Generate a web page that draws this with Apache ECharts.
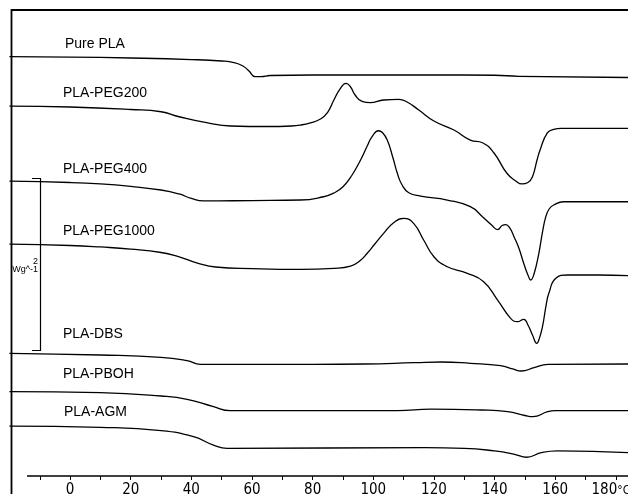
<!DOCTYPE html>
<html>
<head>
<meta charset="utf-8">
<script src="https://cdn.jsdelivr.net/npm/echarts@6/dist/echarts.min.js"></script>
<style>
html,body{margin:0;padding:0;background:#fff;}
#c{width:628px;height:494px;}
</style>
</head>
<body>
<div id="c"></div>
<script>
// Temperature (°C) vs heat flow (W/g, curves offset vertically)
const seriesNames = ['Pure PLA','PLA-PEG200','PLA-PEG400','PLA-PEG1000','PLA-DBS','PLA-PBOH','PLA-AGM'];

const purePLA = [[-20,4.86],[0,4.855],[20,4.844],[40,4.826],[50,4.809],[54,4.791],[57,4.751],[59,4.693],[61,4.629],[63,4.629],[66,4.641],[80,4.647],[120,4.647],[140,4.644],[148,4.632],[184,4.618]];

const pegA = [[-20,4.287],[0,4.276],[20,4.247],[30,4.221],[36,4.163],[45,4.094],[53,4.056],[65,4.050],[73,4.056],[76,4.067],[79,4.090],[82.6,4.137],[85,4.218],[87,4.357],[89,4.484],[91,4.550],[92.5,4.508],[94,4.415],[96.3,4.340],[99,4.326],[103.4,4.357],[108.4,4.365],[111,4.337],[115,4.241],[120,4.114],[126.6,4.009],[132,3.893],[136,3.862],[139.8,3.743],[144,3.511],[147,3.418],[149,3.384],[151,3.401],[152.5,3.468],[154,3.662],[155,3.778],[157.4,3.975],[159.5,4.017],[162,4.029],[184,4.029]];

const pegB = [[-20,3.418],[0,3.401],[10,3.384],[20,3.355],[30,3.314],[36,3.268],[40,3.216],[44,3.187],[60,3.192],[76,3.198],[83.6,3.236],[87,3.279],[90,3.352],[93,3.488],[95.8,3.662],[98,3.824],[99.6,3.932],[101.7,4.001],[103,3.980],[104.6,3.893],[106.5,3.685],[107.9,3.511],[109.5,3.372],[111.7,3.283],[115.6,3.244],[124.4,3.198],[132,3.121],[136,3.005],[139,2.908],[141,2.856],[142.5,2.903],[143.7,2.914],[145,2.874],[146.4,2.773],[148,2.642],[149.6,2.465],[151,2.329],[151.9,2.271],[153,2.341],[154.6,2.581],[155.8,2.827],[156.9,3.005],[158,3.094],[159.5,3.140],[162.8,3.178],[184,3.178]];

const pegC = [[-20,2.688],[0,2.671],[10,2.654],[20,2.630],[30,2.590],[36,2.538],[42,2.468],[48,2.422],[60,2.404],[76,2.395],[87,2.407],[92.5,2.433],[95.5,2.491],[98,2.581],[100.5,2.688],[103.4,2.812],[106.7,2.935],[110,2.986],[113.3,2.928],[116.6,2.735],[120,2.541],[124.4,2.425],[131,2.349],[136.4,2.251],[141,2.039],[145.3,1.827],[147.5,1.788],[149.6,1.816],[151,1.750],[152.5,1.634],[153.9,1.538],[154.8,1.599],[155.8,1.730],[157,1.981],[157.9,2.117],[160.2,2.291],[164,2.329],[174,2.329],[184,2.321]];

const dbs = [[-20,1.422],[10,1.402],[30,1.375],[38.6,1.336],[43,1.294],[80,1.294],[97,1.298],[113.6,1.313],[122.4,1.321],[132,1.306],[142,1.278],[146,1.240],[148.8,1.217],[153,1.255],[157.6,1.294],[184,1.298]];

const pboh = [[-20,0.977],[10,0.965],[30,0.927],[38.6,0.889],[47.3,0.803],[52.8,0.757],[108,0.757],[119,0.776],[135.6,0.765],[144.3,0.745],[150,0.701],[152.6,0.687],[157.5,0.745],[160,0.757],[184,0.757]];

const agm = [[-20,0.579],[10,0.564],[30,0.525],[40.7,0.455],[47.3,0.359],[51.8,0.321],[117,0.328],[130,0.321],[140,0.290],[146.6,0.251],[150.5,0.217],[155.4,0.270],[160.8,0.290],[184,0.270]];

const tickValues = [-10,0,10,20,30,40,50,60,70,80,90,100,110,120,130,140,150,160,170,180];
const labelValues = [0,20,40,60,80,100,120,140,160,180];

const allData = [purePLA, pegA, pegB, pegC, dbs, pboh, agm];

const chart = echarts.init(document.getElementById('c'), null, {renderer:'canvas'});

const labelPos = [[65,44],[63,93],[63,169],[63,231],[63,334],[63,374],[64,412]];

const graphics = [
  {type:'polyline', shape:{points:[[11.5,494],[11.5,10],[628,10]]}, style:{stroke:'#000', lineWidth:1.8, fill:null}, silent:true},
  {type:'line', shape:{x1:27, y1:476, x2:628, y2:476}, style:{stroke:'#000', lineWidth:1.3}, silent:true},
  {type:'polyline', shape:{points:[[32,178.5],[40.5,178.5],[40.5,350.5],[32,350.5]]}, style:{stroke:'#000', lineWidth:1.2, fill:null}, silent:true},
  {type:'text', x:38, y:262, style:{text:'2', font:'9px "Liberation Sans", Arial, sans-serif', fill:'#000', align:'right', verticalAlign:'middle'}, silent:true},
  {type:'text', x:38, y:270, style:{text:'Wg^-1', font:'9px "Liberation Sans", Arial, sans-serif', fill:'#000', align:'right', verticalAlign:'middle'}, silent:true}
];
seriesNames.forEach((n,i)=>{
  graphics.push({type:'text', x:labelPos[i][0], y:labelPos[i][1], style:{text:n, font:'14px "Liberation Sans", Arial, sans-serif', fill:'#000', align:'left', verticalAlign:'middle'}, silent:true});
});

const tickFont = '"DejaVu Sans Condensed", sans-serif';

chart.setOption({
  animation:false,
  backgroundColor:'#fff',
  grid:{left:9.44, right:0, top:10, bottom:18, containLabel:false, outerBoundsMode:'none'},
  xAxis:{
    type:'value', min:-20, max:184,
    axisLine:{show:false},
    splitLine:{show:false},
    axisTick:{show:true, customValues:tickValues, length:4, lineStyle:{color:'#000', width:1}},
    axisLabel:{show:true, customValues:labelValues, margin:7, color:'#000',
      fontFamily:tickFont, fontSize:15,
      formatter:function(v){ return v===180 ? '{a|180}{b|°C}' : String(v); },
      rich:{
        a:{fontFamily:tickFont, fontSize:15, color:'#000'},
        b:{fontFamily:tickFont, fontSize:12, color:'#000', padding:[0,10,0,0]}
      }},
  },
  yAxis:{type:'value', min:0, max:5.4, show:false},
  graphic:graphics,
  series: allData.map((d,i)=>({
    name:seriesNames[i], type:'line', data:d, showSymbol:false, symbol:'none',
    smooth:0.5, clip:true,
    lineStyle:{color:'#000', width:1.3}
  }))
});
</script>
</body>
</html>
